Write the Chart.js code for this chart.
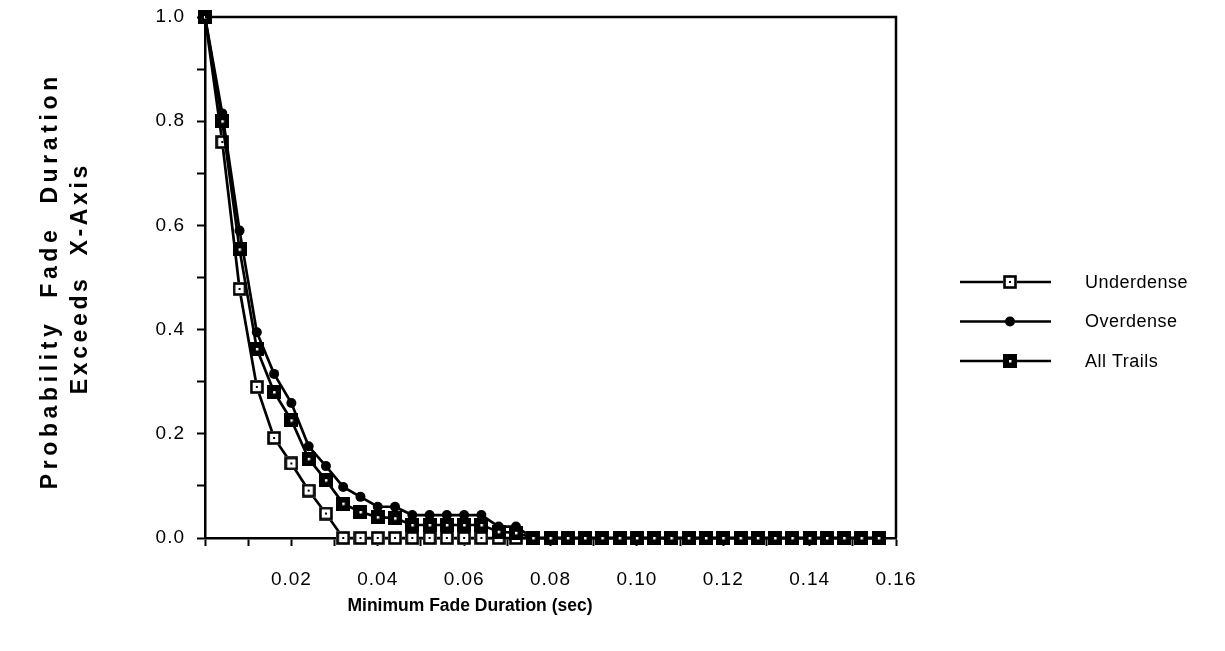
<!DOCTYPE html>
<html lang="en">
<head>
    <meta charset="UTF-8">
    <title>Probability Fade Duration Exceeds X-Axis</title>
    <script src="https://cdn.jsdelivr.net/npm/chart.js"></script>
    <style>
        html, body {
            margin: 0;
            padding: 0;
            background: #fff;
        }
        #wrap {
            width: 1225px;
            height: 651px;
        }
    </style>
</head>
<body>
    <div id="wrap">
        <canvas id="chart" width="1225" height="651"></canvas>
    </div>

    <script>
        // minimum fade duration (sec)
        const durations = [
            0.000, 0.004, 0.008, 0.012, 0.016, 0.020, 0.024, 0.028, 0.032, 0.036,
            0.040, 0.044, 0.048, 0.052, 0.056, 0.060, 0.064, 0.068, 0.072, 0.076,
            0.080, 0.084, 0.088, 0.092, 0.096, 0.100, 0.104, 0.108, 0.112, 0.116,
            0.120, 0.124, 0.128, 0.132, 0.136, 0.140, 0.144, 0.148, 0.152, 0.156
        ];
        const underdense = [
            1.000, 0.760, 0.478, 0.290, 0.192, 0.143, 0.091, 0.047, 0, 0,
            0, 0, 0, 0, 0, 0, 0, 0, 0, 0,
            0, 0, 0, 0, 0, 0, 0, 0, 0, 0,
            0, 0, 0, 0, 0, 0, 0, 0, 0, 0
        ];
        const overdense = [
            1.000, 0.815, 0.590, 0.395, 0.315, 0.259, 0.176, 0.138, 0.098, 0.079,
            0.060, 0.060, 0.044, 0.044, 0.044, 0.044, 0.044, 0.022, 0.022, 0,
            0, 0, 0, 0, 0, 0, 0, 0, 0, 0,
            0, 0, 0, 0, 0, 0, 0, 0, 0, 0
        ];
        const allTrails = [
            1.000, 0.800, 0.554, 0.363, 0.280, 0.226, 0.152, 0.111, 0.066, 0.050,
            0.040, 0.038, 0.025, 0.025, 0.025, 0.025, 0.025, 0.012, 0.010, 0,
            0, 0, 0, 0, 0, 0, 0, 0, 0, 0,
            0, 0, 0, 0, 0, 0, 0, 0, 0, 0
        ];
        const seriesNames = ['Underdense', 'Overdense', 'All Trails'];
        const xTickLabels = ['0.02', '0.04', '0.06', '0.08', '0.10', '0.12', '0.14', '0.16'];
        const yTickLabels = ['0.0', '0.2', '0.4', '0.6', '0.8', '1.0'];
        const xTickValues = [0, 0.01, 0.02, 0.03, 0.04, 0.05, 0.06, 0.07, 0.08,
            0.09, 0.10, 0.11, 0.12, 0.13, 0.14, 0.15, 0.16];

        const FONT = '"Liberation Sans", Arial, Helvetica, sans-serif';

        // marker images
        function openSquare() {
            const c = document.createElement('canvas');
            c.width = 14; c.height = 14;
            const g = c.getContext('2d');
            g.fillStyle = '#fff';
            g.fillRect(0, 0, 14, 14);
            g.strokeStyle = '#000';
            g.lineWidth = 2.6;
            g.strokeRect(1.5, 1.5, 11, 11);
            g.fillStyle = '#000';
            g.fillRect(6, 6, 2, 2);
            return c;
        }
        function filledSquare() {
            const c = document.createElement('canvas');
            c.width = 14; c.height = 14;
            const g = c.getContext('2d');
            g.fillStyle = '#000';
            g.fillRect(0, 0, 14, 14);
            g.fillStyle = '#fff';
            g.fillRect(6, 6, 2.5, 2.5);
            return c;
        }
        const markUnder = openSquare();
        const markAll = filledSquare();

        const toPoints = vals => durations.map((d, i) => ({ x: d, y: vals[i] }));

        // spaced text stretched to a given length
        function spacedText(ctx, text, cx, cy, length) {
            ctx.letterSpacing = '0px';
            const w = ctx.measureText(text).width;
            const s = (length - w) / text.length;
            ctx.letterSpacing = s + 'px';
            ctx.save();
            ctx.translate(cx, cy);
            ctx.rotate(-Math.PI / 2);
            ctx.fillText(text, s / 2, 0);
            ctx.restore();
        }

        // frame, titles and legend drawn by hand
        const decor = {
            id: 'decor',
            beforeDraw(chart) {
                chart.ctx.letterSpacing = '1px';
            },
            afterDraw(chart) {
                const ctx = chart.ctx;
                const a = chart.chartArea;
                ctx.save();
                ctx.strokeStyle = '#000';
                ctx.lineWidth = 2.5;
                ctx.beginPath();
                ctx.moveTo(a.left, a.top);
                ctx.lineTo(a.right, a.top);
                ctx.lineTo(a.right, a.bottom);
                ctx.stroke();

                // y title
                ctx.fillStyle = '#000';
                ctx.font = 'bold 23px ' + FONT;
                ctx.textAlign = 'center';
                ctx.textBaseline = 'middle';
                spacedText(ctx, 'Probability  Fade  Duration', 51, 283, 417);
                spacedText(ctx, 'Exceeds  X-Axis', 81, 280, 232);

                // x title
                ctx.font = 'bold 17.5px ' + FONT;
                ctx.letterSpacing = '0px';
                ctx.fillText('Minimum Fade Duration (sec)', 470, 606);

                // legend
                const marks = [markUnder, null, markAll];
                ctx.font = '18px ' + FONT;
                ctx.letterSpacing = '0.5px';
                ctx.textAlign = 'left';
                seriesNames.forEach((name, i) => {
                    const y = 282 + i * 39.5;
                    ctx.lineWidth = 2.5;
                    ctx.beginPath();
                    ctx.moveTo(960, y);
                    ctx.lineTo(1051, y);
                    ctx.stroke();
                    if (marks[i]) {
                        const m = marks[i];
                        ctx.drawImage(m, 1010 - m.width / 2, y - m.height / 2);
                    } else {
                        ctx.beginPath();
                        ctx.arc(1010, y, 5, 0, Math.PI * 2);
                        ctx.fill();
                    }
                    ctx.fillText(name, 1085, y + 1);
                });
                ctx.restore();
            }
        };

        const ctx = document.getElementById('chart').getContext('2d');
        const chart = new Chart(ctx, {
            type: 'line',
            data: {
                datasets: [
                    {
                        label: seriesNames[0],
                        data: toPoints(underdense),
                        borderColor: '#000',
                        borderWidth: 2.7,
                        pointStyle: markUnder,
                        clip: false,
                        order: 3
                    },
                    {
                        label: seriesNames[1],
                        data: toPoints(overdense),
                        borderColor: '#000',
                        backgroundColor: '#000',
                        borderWidth: 2.7,
                        pointStyle: 'circle',
                        pointRadius: 5,
                        pointBorderWidth: 0,
                        clip: false,
                        order: 2
                    },
                    {
                        label: seriesNames[2],
                        data: toPoints(allTrails),
                        borderColor: '#000',
                        borderWidth: 2.7,
                        pointStyle: markAll,
                        clip: false,
                        order: 1
                    }
                ]
            },
            options: {
                responsive: false,
                animation: false,
                layout: {
                    padding: { top: 17, right: 329, left: 0, bottom: 0 }
                },
                plugins: {
                    legend: { display: false },
                    tooltip: { enabled: false }
                },
                scales: {
                    x: {
                        type: 'linear',
                        min: 0,
                        max: 0.16,
                        afterFit: s => {
                            s.height = 113;
                            s.paddingLeft = 0;
                            s.paddingRight = 0;
                        },
                        afterBuildTicks: s => {
                            s.ticks = xTickValues.map(v => ({ value: v }));
                        },
                        ticks: {
                            autoSkip: false,
                            maxRotation: 0,
                            padding: 22,
                            color: '#000',
                            font: { family: FONT, size: 19 },
                            callback: v => {
                                const k = Math.round(v * 100);
                                return (k > 0 && k % 2 === 0) ? xTickLabels[k / 2 - 1] : '';
                            }
                        },
                        grid: {
                            drawOnChartArea: false,
                            drawTicks: true,
                            tickLength: 8,
                            tickWidth: 2,
                            tickColor: '#000'
                        },
                        border: { display: true, color: '#000', width: 2.5 }
                    },
                    y: {
                        min: 0,
                        max: 1,
                        afterFit: s => {
                            s.width = 205;
                            s.paddingTop = 0;
                            s.paddingBottom = 0;
                        },
                        ticks: {
                            stepSize: 0.1,
                            autoSkip: false,
                            padding: 12,
                            color: '#000',
                            font: { family: FONT, size: 19 },
                            callback: v => {
                                const k = Math.round(v * 10);
                                return k % 2 === 0 ? yTickLabels[k / 2] : '';
                            }
                        },
                        grid: {
                            drawOnChartArea: false,
                            drawTicks: true,
                            tickLength: 8,
                            tickWidth: 2,
                            tickColor: '#000'
                        },
                        border: { display: true, color: '#000', width: 2.5 }
                    }
                }
            },
            plugins: [decor]
        });
    </script>
</body>
</html>
